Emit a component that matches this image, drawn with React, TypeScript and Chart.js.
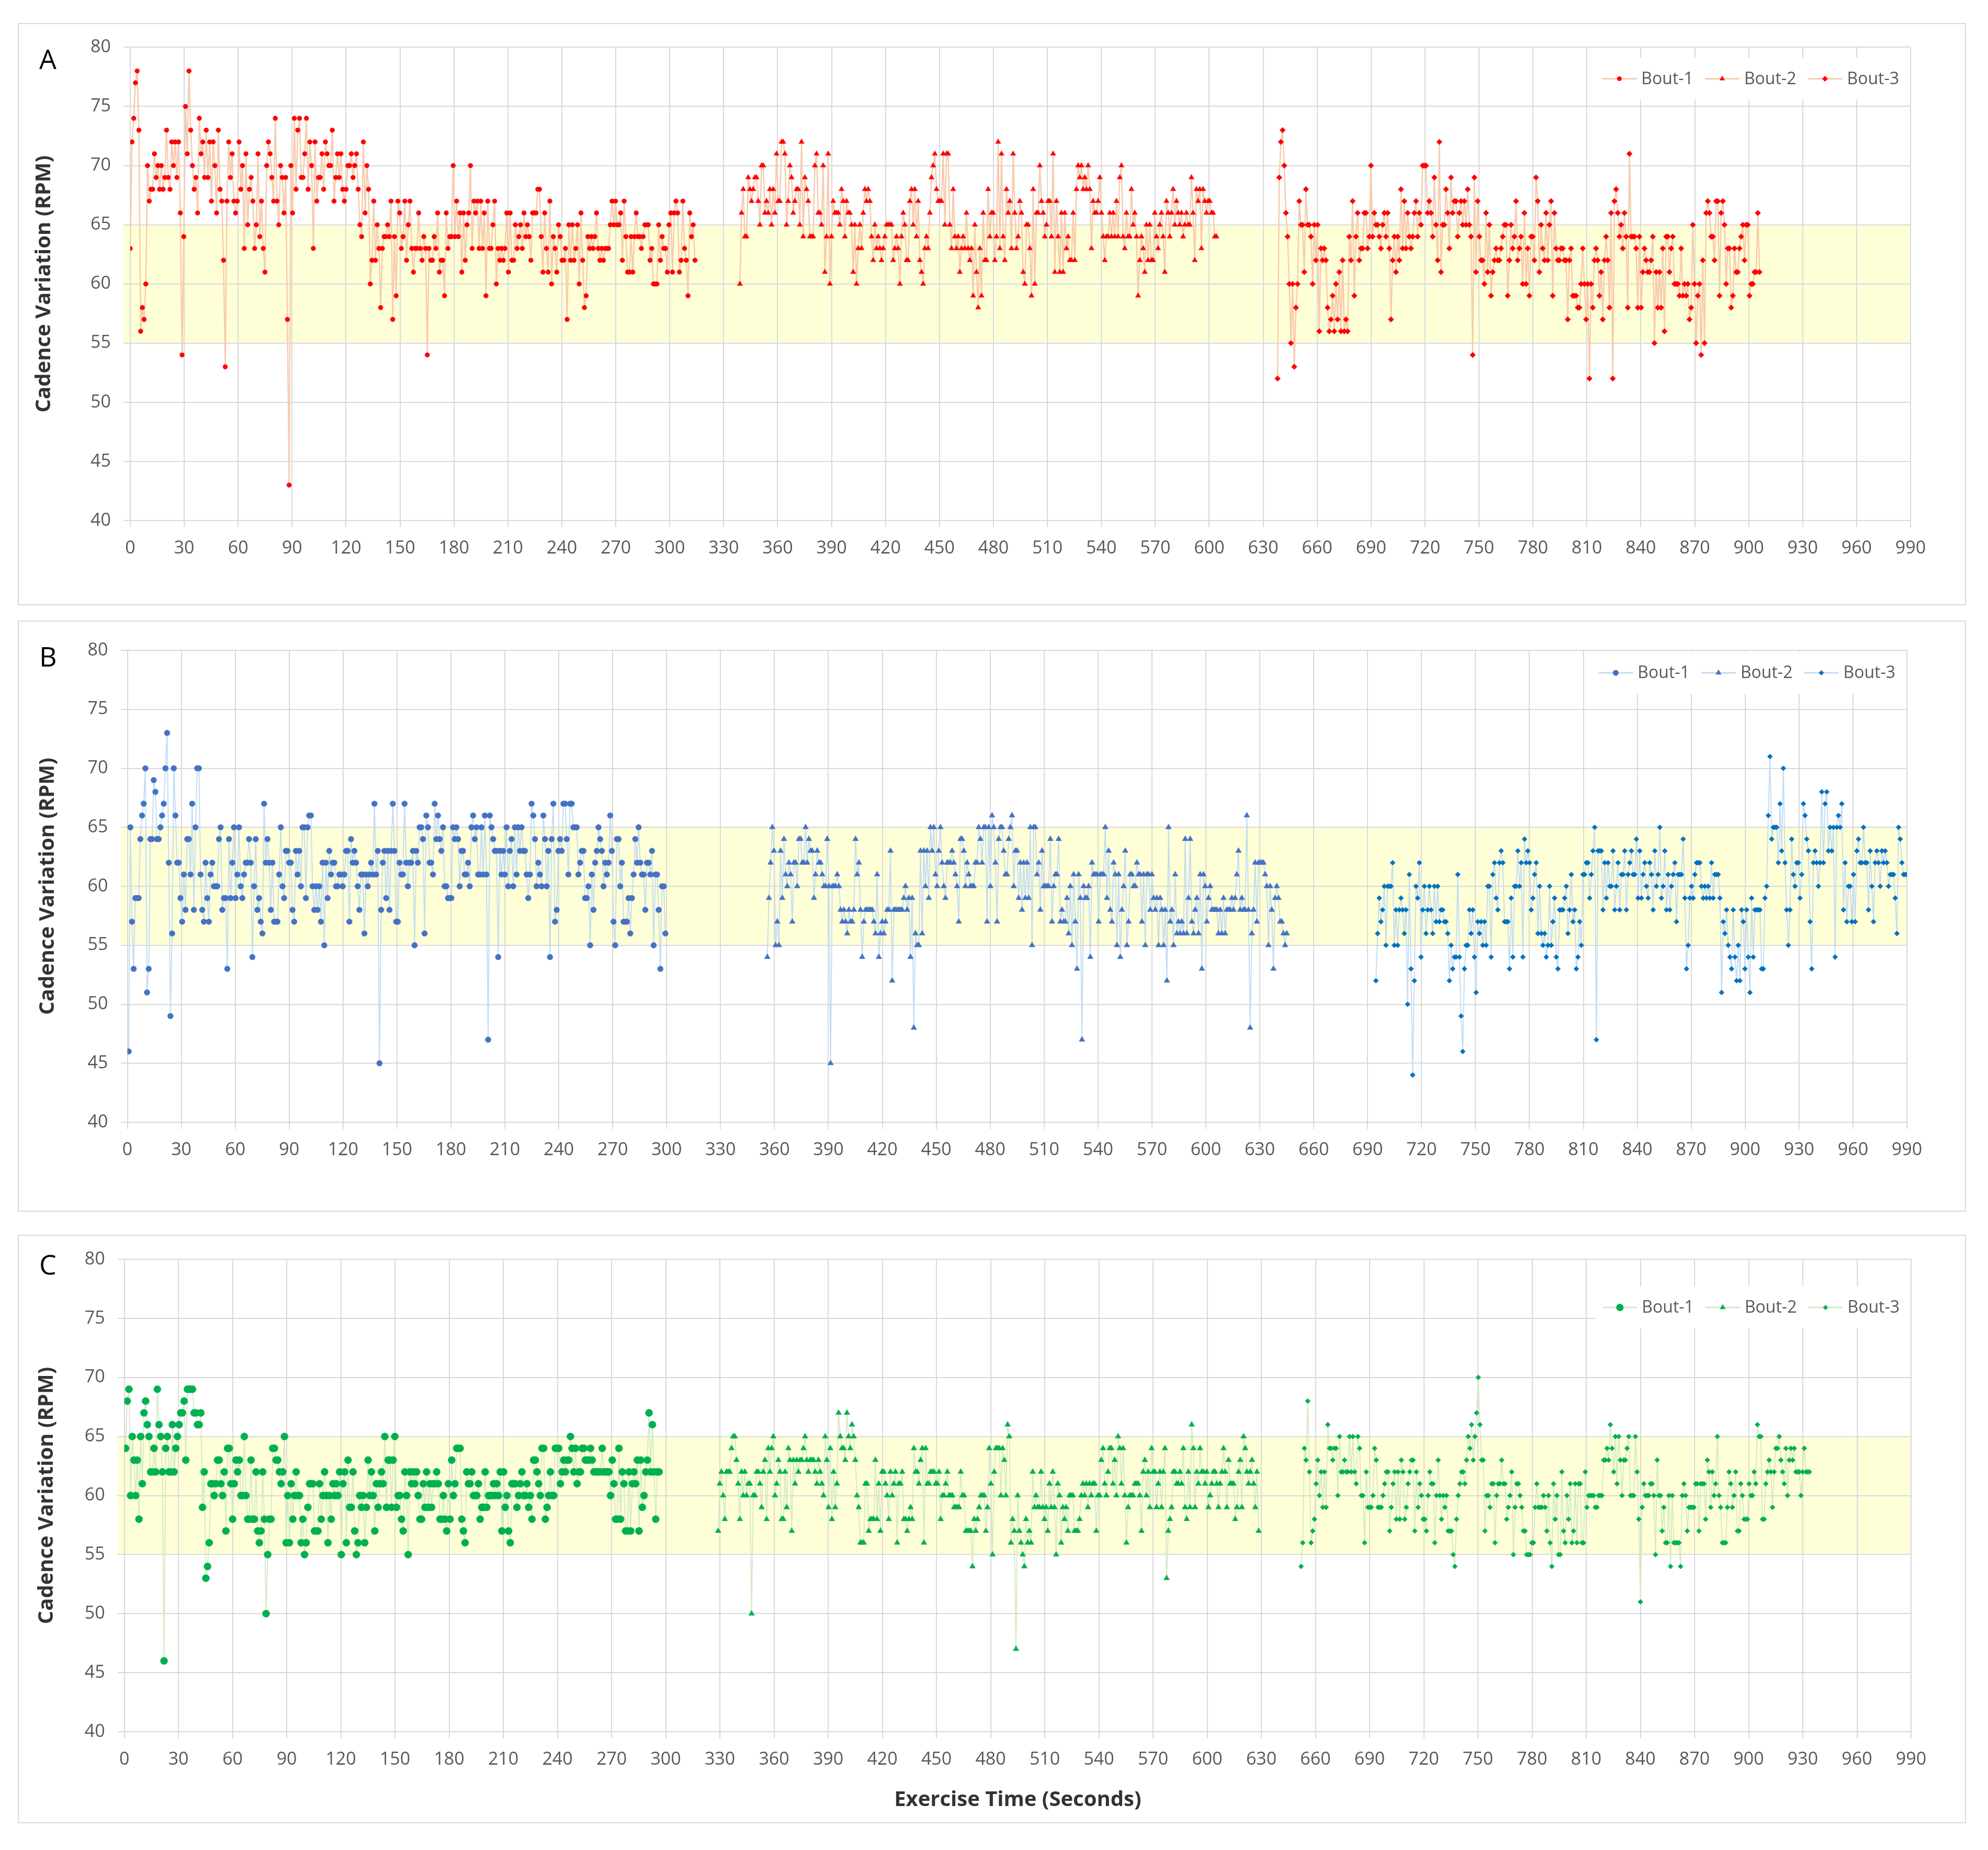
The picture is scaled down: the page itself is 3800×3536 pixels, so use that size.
import { useEffect, useRef } from 'react';
import { Chart, registerables } from 'chart.js';

Chart.register(...registerables);

const FONT = 'Open Sans';

// axes
const X_MIN = 0;
const X_MAX = 990;
const X_STEP = 30;
const Y_MIN = 40;
const Y_MAX = 80;
const Y_STEP = 5;
const TARGET_BAND = [55, 65];
const BOUT_LABELS = ['Bout-1', 'Bout-2', 'Bout-3'];
const Y_TITLE = 'Cadence Variation (RPM)';
const X_TITLE = 'Exercise Time (Seconds)';

// Panel A (seconds covered by each bout, then cadence samples)
const A_BOUT1_SPAN = [0, 314];
const A_BOUT1 = [
   63, 72, 74, 77, 78, 73, 56, 58, 57, 60, 70, 67, 68, 68, 71, 69, 70, 68, 70, 68, 69, 73, 69, 68, 72, 70, 72, 69,
   72, 66, 54, 64, 75, 71, 78, 73, 70, 68, 69, 66, 74, 71, 72, 69, 73, 69, 72, 67, 72, 70, 66, 73, 68, 67, 62, 53,
   67, 72, 69, 71, 67, 66, 67, 72, 68, 70, 63, 71, 65, 68, 69, 67, 63, 65, 71, 64, 67, 63, 61, 70, 72, 71, 69, 67,
   74, 67, 65, 70, 69, 66, 69, 57, 43, 70, 66, 74, 68, 73, 74, 69, 69, 71, 74, 68, 72, 70, 63, 72, 67, 69, 69, 71,
   68, 72, 71, 70, 70, 73, 67, 69, 71, 69, 71, 68, 67, 68, 70, 70, 71, 69, 70, 71, 68, 65, 64, 72, 66, 70, 68, 60,
   62, 67, 62, 65, 63, 58, 63, 64, 64, 65, 64, 67, 57, 64, 59, 67, 66, 63, 64, 67, 62, 65, 67, 63, 61, 63, 63, 66,
   63, 62, 64, 63, 54, 63, 62, 62, 64, 63, 66, 61, 62, 62, 59, 66, 63, 64, 64, 70, 64, 67, 64, 66, 61, 66, 62, 65,
   66, 70, 63, 67, 66, 67, 63, 67, 63, 66, 59, 67, 63, 63, 65, 67, 60, 63, 62, 63, 62, 63, 66, 61, 66, 62, 62, 65,
   63, 64, 65, 63, 66, 64, 65, 64, 62, 66, 66, 66, 68, 68, 64, 61, 66, 63, 61, 67, 60, 64, 63, 61, 65, 64, 62, 62,
   63, 57, 65, 62, 65, 62, 63, 65, 60, 66, 62, 58, 59, 64, 63, 64, 63, 64, 66, 63, 62, 63, 62, 63, 63, 63, 65, 67,
   65, 67, 65, 65, 66, 62, 67, 64, 61, 61, 64, 61, 64, 66, 64, 64, 63, 64, 65, 65, 65, 62, 63, 60, 60, 60, 65, 62,
   64, 63, 63, 61, 65, 66, 61, 66, 67, 66, 61, 62, 67, 63, 62, 59, 66, 64, 65, 62,
];
const A_BOUT2_SPAN = [339, 604];
const A_BOUT2 = [
   60, 66, 68, 64, 64, 69, 68, 67, 68, 69, 69, 67, 65, 70, 70, 66, 67, 66, 68, 65, 68, 66, 71, 67, 67, 72, 72, 71,
   65, 67, 70, 69, 66, 67, 68, 68, 65, 72, 64, 69, 68, 67, 64, 64, 64, 70, 71, 66, 66, 65, 70, 61, 64, 71, 60, 64,
   67, 66, 66, 66, 65, 68, 67, 64, 67, 66, 66, 65, 61, 65, 60, 63, 65, 63, 66, 68, 67, 68, 67, 64, 62, 65, 63, 64,
   63, 62, 63, 64, 65, 65, 65, 65, 62, 63, 64, 63, 60, 64, 66, 65, 62, 62, 67, 68, 65, 68, 64, 67, 62, 61, 60, 63,
   64, 63, 66, 69, 70, 71, 68, 67, 67, 67, 71, 65, 71, 71, 65, 63, 68, 64, 63, 64, 61, 63, 64, 63, 66, 63, 62, 63,
   59, 65, 61, 58, 63, 59, 66, 62, 62, 68, 64, 66, 66, 62, 64, 72, 63, 71, 64, 62, 68, 66, 67, 63, 71, 66, 63, 64,
   67, 66, 61, 60, 65, 65, 63, 59, 68, 60, 66, 66, 70, 67, 66, 64, 65, 67, 67, 64, 71, 61, 67, 64, 61, 66, 61, 66,
   63, 64, 62, 62, 66, 62, 68, 70, 69, 70, 68, 69, 68, 70, 68, 63, 67, 66, 66, 67, 69, 66, 64, 62, 64, 64, 66, 64,
   66, 64, 67, 64, 69, 70, 64, 63, 66, 64, 64, 68, 65, 66, 64, 59, 62, 64, 63, 61, 65, 62, 65, 62, 62, 66, 64, 63,
   65, 66, 64, 61, 67, 66, 64, 66, 68, 65, 67, 66, 65, 66, 64, 65, 66, 65, 65, 69, 66, 62, 68, 67, 68, 63, 68, 67,
   66, 67, 67, 66, 66, 64, 64,
];
const A_BOUT3_SPAN = [638, 906];
const A_BOUT3 = [
   52, 69, 72, 73, 70, 66, 64, 60, 55, 60, 53, 58, 60, 67, 65, 65, 61, 68, 65, 65, 64, 60, 65, 62, 65, 56, 63, 62,
   63, 62, 58, 56, 57, 59, 56, 60, 57, 61, 56, 62, 56, 57, 56, 64, 62, 67, 59, 64, 66, 62, 63, 63, 66, 66, 63, 64,
   70, 64, 66, 65, 65, 64, 63, 65, 66, 64, 66, 63, 57, 62, 64, 61, 64, 62, 68, 63, 67, 63, 66, 64, 63, 64, 66, 67,
   64, 66, 65, 70, 70, 70, 66, 67, 66, 64, 69, 65, 62, 72, 61, 65, 65, 68, 66, 63, 69, 66, 67, 67, 64, 66, 67, 65,
   67, 65, 68, 65, 64, 54, 69, 61, 67, 64, 62, 62, 60, 66, 61, 65, 59, 61, 62, 63, 62, 62, 63, 64, 65, 65, 59, 62,
   65, 63, 64, 67, 62, 63, 64, 60, 66, 60, 63, 59, 64, 64, 62, 69, 67, 61, 65, 63, 62, 66, 62, 65, 67, 59, 66, 63,
   62, 62, 63, 63, 62, 62, 57, 62, 63, 59, 59, 59, 58, 58, 60, 63, 60, 57, 60, 52, 60, 58, 62, 63, 62, 59, 61, 57,
   62, 64, 62, 58, 66, 52, 67, 68, 66, 64, 65, 63, 66, 64, 58, 71, 64, 64, 64, 63, 58, 64, 58, 61, 63, 62, 61, 61,
   62, 64, 55, 61, 58, 61, 58, 63, 56, 64, 64, 61, 63, 64, 60, 60, 60, 59, 63, 59, 60, 59, 60, 57, 58, 65, 60, 55,
   59, 60, 54, 62, 55, 66, 67, 66, 64, 64, 62, 67, 67, 59, 66, 67, 65, 60, 63, 63, 58, 59, 63, 61, 61, 63, 64, 65,
   62, 65, 65, 59, 60, 60, 61, 61, 66, 61,
];

// Panel B
const B_BOUT1_SPAN = [0.7, 299.3];
const B_BOUT1 = [
   46, 65, 57, 53, 59, 59, 59, 64, 66, 67, 70, 51, 53, 64, 64, 69, 68, 64, 64, 65, 66, 67, 70, 73, 62, 49, 56, 70,
   66, 62, 62, 59, 57, 61, 58, 64, 64, 61, 67, 58, 65, 70, 70, 61, 58, 57, 62, 59, 57, 61, 62, 60, 60, 60, 64, 65,
   58, 59, 59, 53, 64, 59, 62, 65, 59, 61, 65, 60, 59, 61, 62, 62, 64, 62, 54, 60, 64, 58, 59, 57, 56, 67, 62, 64,
   62, 58, 62, 57, 57, 57, 61, 65, 60, 59, 63, 63, 62, 62, 58, 57, 63, 61, 63, 60, 65, 65, 59, 65, 66, 66, 60, 58,
   60, 58, 60, 57, 62, 55, 62, 59, 63, 61, 62, 62, 60, 60, 61, 61, 60, 61, 63, 63, 57, 64, 62, 63, 62, 60, 58, 61,
   61, 56, 61, 60, 61, 62, 61, 67, 61, 63, 45, 58, 62, 63, 59, 63, 58, 63, 67, 63, 57, 57, 62, 61, 61, 67, 62, 60,
   62, 62, 63, 55, 63, 62, 65, 65, 64, 56, 66, 65, 62, 62, 61, 67, 64, 66, 64, 63, 65, 60, 60, 59, 59, 59, 65, 64,
   65, 64, 60, 63, 63, 61, 61, 62, 60, 65, 66, 64, 65, 61, 61, 65, 61, 66, 61, 47, 66, 65, 64, 63, 63, 54, 63, 61,
   63, 61, 65, 60, 63, 64, 60, 65, 61, 65, 63, 65, 63, 63, 61, 59, 61, 67, 66, 64, 60, 62, 61, 60, 66, 64, 60, 63,
   54, 64, 67, 57, 58, 63, 64, 63, 67, 67, 64, 61, 67, 67, 65, 65, 65, 61, 62, 63, 63, 59, 59, 60, 55, 61, 58, 62,
   63, 65, 64, 63, 60, 62, 61, 62, 66, 63, 57, 55, 64, 64, 60, 62, 57, 57, 57, 59, 56, 59, 61, 64, 62, 65, 62, 61,
   61, 58, 62, 62, 61, 63, 55, 61, 61, 58, 53, 60, 60, 56,
];
const B_BOUT2_SPAN = [356, 645];
const B_BOUT2 = [
   54, 59, 62, 65, 63, 55, 57, 55, 63, 59, 64, 61, 60, 62, 61, 57, 62, 62, 60, 64, 64, 62, 62, 65, 62, 64, 63, 63,
   59, 61, 63, 62, 62, 61, 60, 60, 64, 60, 45, 60, 60, 60, 61, 60, 58, 57, 58, 57, 56, 58, 57, 57, 58, 64, 61, 62,
   58, 54, 57, 58, 58, 58, 58, 58, 57, 56, 61, 54, 56, 57, 56, 57, 58, 58, 63, 52, 58, 58, 58, 58, 58, 58, 59, 60,
   58, 59, 54, 59, 48, 56, 55, 55, 63, 56, 63, 60, 63, 59, 65, 63, 65, 61, 60, 63, 65, 62, 60, 59, 62, 62, 62, 63,
   62, 61, 60, 57, 64, 64, 63, 60, 62, 61, 60, 60, 60, 62, 62, 65, 64, 62, 65, 65, 57, 65, 60, 66, 65, 62, 57, 64,
   65, 65, 63, 61, 61, 64, 65, 66, 60, 63, 63, 59, 62, 58, 62, 59, 62, 59, 65, 55, 65, 65, 61, 62, 58, 63, 60, 60,
   60, 60, 64, 57, 60, 61, 61, 64, 57, 58, 57, 57, 59, 56, 60, 55, 61, 57, 53, 61, 59, 47, 60, 59, 59, 60, 54, 62,
   61, 61, 61, 57, 61, 61, 61, 65, 59, 63, 58, 57, 62, 61, 55, 61, 54, 58, 60, 63, 55, 57, 61, 61, 60, 60, 62, 61,
   61, 57, 61, 55, 61, 61, 58, 61, 59, 58, 59, 55, 59, 58, 55, 58, 52, 65, 57, 58, 55, 61, 56, 57, 56, 57, 56, 64,
   56, 59, 64, 57, 56, 58, 59, 56, 61, 53, 61, 60, 57, 59, 60, 58, 58, 58, 58, 56, 58, 56, 59, 56, 58, 58, 58, 59,
   58, 59, 61, 63, 58, 59, 58, 58, 66, 58, 48, 56, 58, 62, 57, 62, 62, 62, 62, 61, 60, 55, 60, 58, 53, 59, 60, 59,
   57, 57, 56, 55, 56,
];
const B_BOUT3_SPAN = [694.6, 990];
const B_BOUT3 = [
   52, 56, 59, 57, 58, 60, 55, 60, 60, 60, 62, 55, 58, 55, 58, 59, 58, 56, 58, 50, 61, 53, 44, 52, 60, 59, 62, 54,
   58, 60, 56, 58, 60, 58, 56, 60, 57, 60, 57, 58, 58, 57, 57, 56, 52, 55, 53, 54, 54, 61, 54, 49, 46, 53, 55, 55,
   58, 56, 58, 54, 51, 57, 56, 57, 55, 57, 55, 60, 60, 54, 61, 62, 59, 58, 62, 63, 62, 57, 57, 57, 53, 59, 54, 60,
   60, 63, 60, 62, 54, 64, 62, 63, 62, 58, 59, 61, 62, 56, 60, 56, 55, 56, 54, 55, 60, 55, 57, 59, 54, 53, 58, 58,
   58, 59, 60, 56, 58, 61, 57, 58, 53, 54, 57, 55, 61, 61, 62, 62, 59, 61, 63, 65, 47, 63, 63, 63, 58, 62, 59, 62,
   60, 60, 63, 58, 60, 62, 58, 61, 61, 63, 58, 61, 62, 63, 61, 61, 64, 59, 63, 59, 61, 62, 60, 59, 62, 61, 58, 63,
   60, 61, 65, 59, 60, 63, 58, 61, 58, 60, 61, 62, 57, 61, 61, 61, 64, 59, 53, 55, 59, 60, 59, 61, 62, 62, 62, 60,
   59, 60, 59, 60, 59, 62, 59, 61, 61, 61, 59, 51, 57, 56, 58, 55, 54, 53, 58, 54, 52, 55, 52, 58, 57, 53, 58, 54,
   51, 59, 54, 58, 58, 58, 58, 53, 53, 59, 60, 66, 71, 64, 65, 65, 65, 62, 67, 63, 70, 62, 58, 55, 58, 64, 61, 60,
   62, 62, 59, 61, 67, 66, 64, 63, 57, 53, 62, 63, 62, 60, 62, 68, 62, 67, 68, 63, 65, 63, 65, 54, 65, 66, 65, 67,
   58, 62, 57, 60, 60, 57, 61, 57, 63, 64, 62, 62, 65, 62, 62, 58, 63, 60, 57, 62, 63, 62, 60, 63, 62, 63, 62, 60,
   61, 61, 61, 59, 56, 65, 64, 62, 61, 61, 61,
];

// Panel C
const C_BOUT1_SPAN = [0.7, 296.3];
const C_BOUT1 = [
   64, 68, 69, 60, 65, 63, 60, 63, 58, 65, 61, 67, 68, 66, 65, 62, 62, 64, 62, 69, 66, 65, 62, 46, 64, 65, 62, 62,
   66, 62, 64, 65, 66, 67, 67, 68, 63, 69, 69, 69, 69, 67, 67, 66, 66, 67, 59, 62, 53, 54, 56, 61, 61, 60, 61, 63,
   63, 61, 60, 62, 57, 64, 64, 61, 58, 61, 63, 62, 63, 60, 60, 65, 60, 58, 58, 63, 58, 58, 62, 57, 56, 57, 62, 58,
   50, 55, 58, 58, 64, 64, 63, 63, 62, 61, 62, 65, 56, 60, 56, 61, 58, 60, 62, 60, 60, 56, 58, 55, 56, 59, 61, 61,
   61, 57, 57, 57, 61, 58, 60, 62, 60, 56, 60, 58, 61, 60, 61, 60, 62, 55, 61, 62, 56, 63, 59, 59, 62, 57, 55, 56,
   60, 59, 60, 56, 59, 63, 60, 62, 60, 57, 61, 59, 61, 62, 61, 65, 59, 63, 63, 59, 63, 65, 59, 60, 60, 58, 57, 62,
   60, 55, 62, 61, 62, 61, 62, 60, 58, 58, 61, 59, 62, 59, 61, 59, 61, 61, 62, 61, 58, 58, 60, 58, 57, 61, 58, 63,
   60, 61, 64, 64, 64, 58, 57, 56, 62, 61, 61, 62, 60, 60, 60, 61, 58, 59, 59, 62, 59, 60, 60, 60, 61, 60, 61, 60,
   62, 57, 62, 59, 60, 57, 56, 61, 61, 61, 59, 60, 61, 62, 60, 60, 61, 59, 60, 58, 63, 63, 62, 61, 60, 64, 64, 58,
   59, 60, 62, 60, 60, 64, 64, 64, 61, 62, 63, 62, 63, 63, 65, 64, 62, 64, 61, 62, 62, 64, 64, 63, 63, 63, 64, 63,
   62, 62, 62, 62, 62, 64, 62, 62, 62, 62, 60, 63, 61, 58, 58, 64, 58, 62, 61, 57, 57, 62, 57, 61, 62, 61, 63, 57,
   63, 59, 60, 62, 63, 67, 62, 66, 62, 58, 62, 62,
];
const C_BOUT2_SPAN = [329, 628.5];
const C_BOUT2 = [
   57, 61, 62, 60, 58, 62, 62, 62, 64, 65, 65, 63, 61, 58, 62, 60, 62, 60, 61, 61, 50, 60, 60, 62, 62, 61, 59, 62,
   63, 58, 64, 62, 64, 65, 60, 61, 63, 62, 58, 58, 62, 59, 64, 63, 57, 63, 61, 63, 62, 63, 63, 64, 65, 63, 62, 63,
   63, 63, 62, 61, 63, 62, 61, 60, 65, 63, 59, 64, 58, 62, 59, 61, 67, 65, 64, 64, 63, 67, 65, 64, 66, 65, 63, 60,
   59, 56, 56, 56, 61, 61, 57, 58, 58, 58, 63, 58, 61, 57, 62, 62, 61, 60, 58, 62, 60, 61, 62, 56, 61, 61, 62, 58,
   58, 57, 58, 59, 58, 64, 62, 62, 61, 63, 64, 56, 64, 61, 61, 62, 62, 62, 61, 61, 62, 58, 60, 60, 61, 62, 60, 60,
   60, 59, 59, 59, 59, 62, 60, 60, 57, 57, 57, 57, 54, 58, 57, 58, 59, 60, 60, 60, 57, 59, 64, 61, 55, 62, 64, 64,
   64, 60, 64, 63, 60, 66, 65, 56, 58, 57, 47, 60, 57, 56, 55, 54, 58, 56, 57, 56, 62, 59, 60, 59, 59, 62, 59, 58,
   59, 57, 61, 59, 62, 59, 55, 61, 60, 56, 59, 58, 59, 57, 60, 60, 60, 57, 57, 57, 58, 60, 61, 60, 61, 59, 61, 60,
   61, 61, 57, 60, 60, 63, 64, 61, 60, 62, 64, 64, 61, 63, 60, 65, 64, 61, 64, 60, 56, 59, 60, 60, 60, 61, 61, 61,
   60, 57, 62, 63, 60, 62, 59, 64, 62, 62, 59, 61, 62, 59, 62, 64, 53, 57, 58, 59, 62, 62, 61, 61, 62, 61, 64, 59,
   58, 62, 59, 66, 64, 59, 62, 61, 64, 62, 62, 61, 62, 59, 60, 61, 62, 62, 61, 59, 61, 62, 64, 62, 59, 63, 61, 61,
   61, 58, 59, 62, 63, 59, 65, 64, 62, 61, 62, 63, 61, 59, 62, 57,
];
const C_BOUT3_SPAN = [652, 933.6];
const C_BOUT3 = [
   54, 56, 64, 63, 68, 62, 56, 57, 58, 61, 63, 60, 62, 59, 62, 59, 66, 64, 64, 63, 64, 64, 60, 65, 62, 62, 63, 62,
   62, 65, 62, 65, 62, 61, 65, 64, 60, 60, 56, 62, 59, 59, 59, 60, 64, 63, 59, 59, 59, 60, 61, 62, 62, 57, 59, 61,
   62, 58, 62, 58, 63, 62, 58, 59, 61, 62, 63, 63, 57, 62, 59, 61, 60, 58, 58, 57, 60, 62, 61, 61, 56, 60, 63, 60,
   58, 60, 59, 60, 57, 57, 57, 55, 54, 58, 60, 61, 62, 62, 61, 63, 65, 64, 66, 63, 65, 67, 70, 66, 63, 63, 57, 60,
   60, 59, 61, 61, 56, 60, 61, 61, 63, 61, 61, 58, 59, 60, 62, 55, 59, 61, 61, 60, 59, 57, 57, 55, 55, 55, 56, 56,
   59, 61, 59, 59, 59, 60, 59, 57, 60, 56, 54, 61, 58, 60, 55, 55, 62, 57, 56, 60, 58, 61, 56, 57, 61, 56, 61, 61,
   56, 56, 62, 59, 60, 60, 60, 60, 59, 59, 60, 60, 60, 63, 63, 64, 63, 66, 64, 62, 65, 61, 65, 63, 60, 63, 63, 64,
   65, 60, 60, 60, 65, 62, 58, 51, 59, 61, 60, 60, 60, 61, 61, 60, 55, 63, 60, 60, 57, 59, 56, 56, 60, 54, 60, 56,
   56, 56, 56, 54, 60, 61, 60, 57, 59, 59, 59, 59, 61, 61, 57, 61, 61, 61, 58, 63, 62, 59, 62, 60, 61, 65, 60, 59,
   56, 56, 56, 59, 62, 61, 59, 60, 62, 57, 57, 61, 60, 58, 58, 58, 61, 60, 60, 62, 61, 66, 65, 65, 58, 58, 61, 62,
   63, 62, 59, 62, 64, 64, 65, 63, 62, 61, 64, 60, 63, 64, 63, 64, 62, 62, 62, 60, 62, 64, 62, 62, 62,
];

type Style = 'circle' | 'triangle' | 'rectRot';

interface SeriesDef {
   values: number[];
   span: number[];
   style: Style;
   radius: number;
   color: string;
}

interface PanelDef {
   letter: string;
   top: number;
   height: number;
   plot: { left: number; right: number; top: number; bottom: number };
   lineColor: string;
   lineWidth: number;
   series: SeriesDef[];
   letterOffset: number;
   legendOffset: number;
   titlePad: number;
   xTitle?: string;
}

const PANELS: PanelDef[] = [
   {
      letter: 'A',
      top: 44,
      height: 1113,
      plot: { left: 249, right: 3652, top: 88, bottom: 995 },
      lineColor: '#F8CBAD',
      lineWidth: 2.5,
      series: [
         { values: A_BOUT1, span: A_BOUT1_SPAN, style: 'circle', radius: 4.5, color: '#FF0000' },
         { values: A_BOUT2, span: A_BOUT2_SPAN, style: 'triangle', radius: 6, color: '#FF0000' },
         { values: A_BOUT3, span: A_BOUT3_SPAN, style: 'rectRot', radius: 5.5, color: '#FF0000' },
      ],
      letterOffset: 42,
      legendOffset: 60,
      titlePad: 25,
   },
   {
      letter: 'B',
      top: 1186,
      height: 1130,
      plot: { left: 243.5, right: 3645, top: 1243, bottom: 2145 },
      lineColor: '#C4DCF2',
      lineWidth: 2,
      series: [
         { values: B_BOUT1, span: B_BOUT1_SPAN, style: 'circle', radius: 5.5, color: '#4472C4' },
         { values: B_BOUT2, span: B_BOUT2_SPAN, style: 'triangle', radius: 6.5, color: '#4472C4' },
         { values: B_BOUT3, span: B_BOUT3_SPAN, style: 'rectRot', radius: 5, color: '#0070C0' },
      ],
      letterOffset: 31,
      legendOffset: 43,
      titlePad: 32,
   },
   {
      letter: 'C',
      top: 2360,
      height: 1125,
      plot: { left: 237.6, right: 3653, top: 2407, bottom: 3310 },
      lineColor: '#D5EAC8',
      lineWidth: 2,
      series: [
         { values: C_BOUT1, span: C_BOUT1_SPAN, style: 'circle', radius: 7, color: '#00B050' },
         { values: C_BOUT2, span: C_BOUT2_SPAN, style: 'triangle', radius: 6.5, color: '#00B050' },
         { values: C_BOUT3, span: C_BOUT3_SPAN, style: 'rectRot', radius: 5, color: '#00B050' },
      ],
      letterOffset: 29,
      legendOffset: 92,
      titlePad: 30,
      xTitle: X_TITLE,
   },
];

const BOX_LEFT = 34;
const BOX_WIDTH = 3724;
const BORDER = 2;
const GRID = '#D9D9D9';
const TICK_COLOR = '#595959';

function toPoints(values: number[], span: number[]) {
   const [t0, t1] = span;
   const dt = (t1 - t0) / (values.length - 1);
   return values.map((v, i) => ({ x: t0 + i * dt, y: v }));
}

function drawMarker(ctx: CanvasRenderingContext2D, style: Style, x: number, y: number, r: number) {
   ctx.beginPath();
   if (style === 'circle') {
      ctx.arc(x, y, r, 0, Math.PI * 2);
   } else if (style === 'triangle') {
      let rad = 0;
      ctx.moveTo(x + Math.sin(rad) * r, y - Math.cos(rad) * r);
      rad += (2 * Math.PI) / 3;
      ctx.lineTo(x + Math.sin(rad) * r, y - Math.cos(rad) * r);
      rad += (2 * Math.PI) / 3;
      ctx.lineTo(x + Math.sin(rad) * r, y - Math.cos(rad) * r);
      ctx.closePath();
   } else {
      ctx.moveTo(x - r, y);
      ctx.lineTo(x, y - r);
      ctx.lineTo(x + r, y);
      ctx.lineTo(x, y + r);
      ctx.closePath();
   }
   ctx.fill();
}

function Panel({ def }: { def: PanelDef }) {
   const canvasRef = useRef<HTMLCanvasElement>(null);
   const innerW = BOX_WIDTH - 2 * BORDER;
   const innerH = def.height - 2 * BORDER;
   const canvasLeft = BOX_LEFT + BORDER;
   const canvasTop = def.top + BORDER;

   useEffect(() => {
      if (!canvasRef.current) return;

      const yAxisWidth = def.plot.left - canvasLeft;
      const padRight = innerW - (def.plot.right - canvasLeft);
      const padTop = def.plot.top - canvasTop;
      const xAxisHeight = innerH - (def.plot.bottom - canvasTop);

      // yellow target zone, drawn under the grid
      const bandPlugin = {
         id: 'targetBand',
         beforeDraw(chart: Chart) {
            const { ctx, chartArea, scales } = chart;
            const yHi = scales.y.getPixelForValue(TARGET_BAND[1]);
            const yLo = scales.y.getPixelForValue(TARGET_BAND[0]);
            ctx.save();
            ctx.fillStyle = '#FFFFD7';
            ctx.fillRect(chartArea.left - 13, yHi, chartArea.right - chartArea.left + 13, yLo - yHi);
            ctx.restore();
         },
      };

      // panel letter and in-plot legend
      const decorPlugin = {
         id: 'panelDecor',
         afterDraw(chart: Chart) {
            const { ctx, chartArea } = chart;
            ctx.save();
            ctx.fillStyle = '#000';
            ctx.font = `52px "${FONT}"`;
            ctx.textBaseline = 'alphabetic';
            ctx.textAlign = 'left';
            ctx.fillText(def.letter, 75 - canvasLeft, chartArea.top + def.letterOffset);

            ctx.font = `32px "${FONT}"`;
            const lineLen = 66;
            const gap = 9;
            const itemGap = 22;
            const widths = BOUT_LABELS.map((t) => ctx.measureText(t).width);
            const total = widths.reduce((a, b) => a + b, 0) + BOUT_LABELS.length * (lineLen + gap) + itemGap * 2;
            const cy = chartArea.top + def.legendOffset;
            let x = chartArea.right - 22 - total;
            ctx.fillStyle = '#FFFFFF';
            ctx.fillRect(x - 14, cy - 40, chartArea.right - x + 13, 80);
            ctx.textBaseline = 'middle';
            BOUT_LABELS.forEach((label, i) => {
               const s = def.series[i];
               ctx.strokeStyle = def.lineColor;
               ctx.lineWidth = 3;
               ctx.beginPath();
               ctx.moveTo(x, cy);
               ctx.lineTo(x + lineLen, cy);
               ctx.stroke();
               ctx.fillStyle = s.color;
               drawMarker(ctx, s.style, x + lineLen / 2, cy, s.radius);
               ctx.fillStyle = TICK_COLOR;
               ctx.fillText(label, x + lineLen + gap, cy + 1);
               x += lineLen + gap + widths[i] + itemGap;
            });
            ctx.restore();
         },
      };

      const chart = new Chart(canvasRef.current, {
         type: 'line',
         data: {
            datasets: def.series.map((s, i) => ({
               label: BOUT_LABELS[i],
               data: toPoints(s.values, s.span),
               borderColor: def.lineColor,
               borderWidth: def.lineWidth,
               tension: 0,
               fill: false,
               pointStyle: s.style,
               pointRadius: s.radius,
               pointBackgroundColor: s.color,
               pointBorderColor: s.color,
               pointBorderWidth: 0.5,
            })),
         },
         options: {
            responsive: false,
            devicePixelRatio: 1,
            animation: false,
            events: [],
            layout: { padding: { left: 0, top: padTop, right: padRight, bottom: 0 } },
            plugins: {
               legend: { display: false },
               tooltip: { enabled: false },
            },
            scales: {
               x: {
                  type: 'linear',
                  min: X_MIN,
                  max: X_MAX,
                  ticks: {
                     stepSize: X_STEP,
                     autoSkip: false,
                     maxRotation: 0,
                     color: TICK_COLOR,
                     padding: 20,
                     font: { family: FONT, size: 34 },
                  },
                  grid: { color: GRID, lineWidth: 2, tickLength: 13 },
                  border: { color: GRID, width: 2 },
                  title: {
                     display: !!def.xTitle,
                     text: def.xTitle ?? '',
                     color: '#333333',
                     font: { family: FONT, size: 40, weight: 'bold' },
                     padding: { top: 0, bottom: 18 },
                  },
                  afterFit: (scale) => {
                     scale.height = xAxisHeight;
                  },
               },
               y: {
                  min: Y_MIN,
                  max: Y_MAX,
                  ticks: {
                     stepSize: Y_STEP,
                     color: TICK_COLOR,
                     padding: 24,
                     font: { family: FONT, size: 34 },
                  },
                  grid: { color: GRID, lineWidth: 2, tickLength: 13 },
                  border: { color: GRID, width: 2 },
                  title: {
                     display: true,
                     text: Y_TITLE,
                     color: '#333333',
                     font: { family: FONT, size: 40, weight: 'bold' },
                     padding: { top: def.titlePad, bottom: 0 },
                  },
                  afterFit: (scale) => {
                     scale.width = yAxisWidth;
                  },
               },
            },
         },
         plugins: [bandPlugin, decorPlugin],
      });

      return () => {
         chart.destroy();
      };
   }, [def]);

   return (
      <div
         style={{
            position: 'absolute',
            left: BOX_LEFT,
            top: def.top,
            width: BOX_WIDTH,
            height: def.height,
            border: `${BORDER}px solid ${GRID}`,
            boxSizing: 'border-box',
            background: '#fff',
         }}
      >
         <canvas ref={canvasRef} width={innerW} height={innerH} style={{ display: 'block', width: innerW, height: innerH }} />
      </div>
   );
}

export default function App() {
   return (
      <div style={{ position: 'absolute', left: 0, top: 0, width: 3800, height: 3536, background: '#fff', fontFamily: FONT }}>
         {PANELS.map((p) => (
            <Panel key={p.letter} def={p} />
         ))}
      </div>
   );
}
